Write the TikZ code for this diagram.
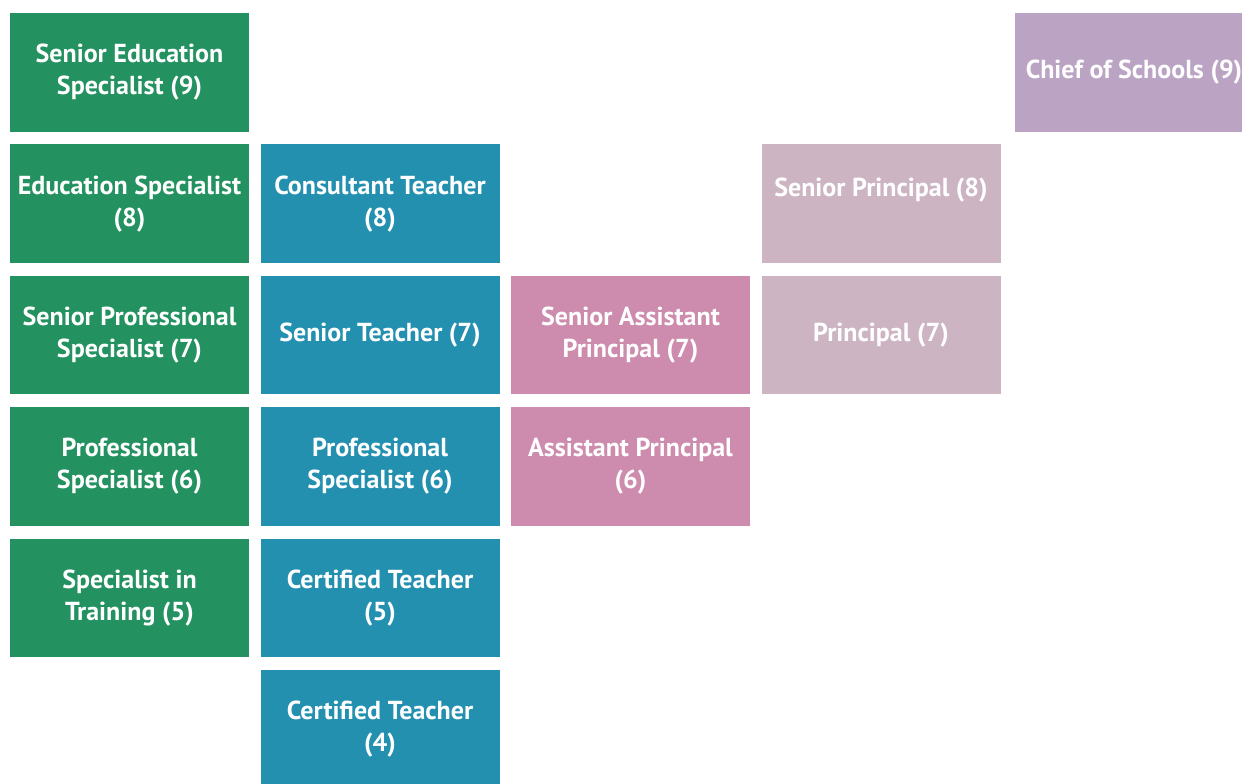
\documentclass[tikz,border=0pt]{standalone}
\usepackage{fontspec}
\setmainfont{PT Sans}
\usepackage{tikz}
\usetikzlibrary{positioning}
\usetikzlibrary{calc}
\usepackage{xcolor}

\definecolor{spgreen}{RGB}{35,146,96}
\definecolor{tchblue}{RGB}{35,144,176}
\definecolor{apink}{RGB}{205,140,173}
\definecolor{prmauve}{RGB}{205,180,195}
\definecolor{chpurple}{RGB}{187,163,196}

\begin{document}
\begin{tikzpicture}[
  font=\fontsize{13}{16}\selectfont\bfseries,
  grade/.style={align=center, text=white, inner sep=0pt, outer sep=0pt,
    minimum width=119.5pt, minimum height=59.3pt},
  spec/.style={grade, fill=spgreen},
  teach/.style={grade, fill=tchblue},
  asst/.style={grade, fill=apink},
  princ/.style={grade, fill=prmauve},
  chief/.style={grade, fill=chpurple},
  node distance=6.4pt and 5.75pt
]
\useasboundingbox (0,0) rectangle (621pt,-391.5pt);
\clip (0,0) rectangle (621pt,-391.5pt);

% specialist track
\node[spec, anchor=north west] (sesp) at (5pt,-6.5pt) {Senior Education\\Specialist (9)};
\node[spec, below=of sesp] (esp) {Education Specialist\\(8)};
\node[spec, below=of esp] (spsp) {Senior Professional\\Specialist (7)};
\node[spec, below=of spsp] (psp) {Professional\\Specialist (6)};
\node[spec, below=of psp] (sit) {Specialist in\\Training (5)};

% teacher track
\node[teach, right=of esp] (ct) {Consultant Teacher\\(8)};
\node[teach, below=of ct] (st) {Senior Teacher (7)};
\node[teach, below=of st] (ptch) {Professional\\Specialist (6)};
\node[teach, below=of ptch] (cert5) {Certified Teacher\\(5)};
\node[teach, below=of cert5] (cert4) {Certified Teacher\\(4)};

% leadership track
\node[asst, right=of st] (sap) {Senior Assistant\\Principal (7)};
\node[asst, below=of sap] (ap) {Assistant Principal\\(6)};
\node[princ, right=of sap] (pr) {Principal (7)};
\node[princ, above=of pr] (spr) {Senior Principal (8)\\~};
\node[chief, anchor=south west] (cos) at ($(spr.north east)+(7pt,6.4pt)$) {Chief of Schools (9)};

\end{tikzpicture}
\end{document}
